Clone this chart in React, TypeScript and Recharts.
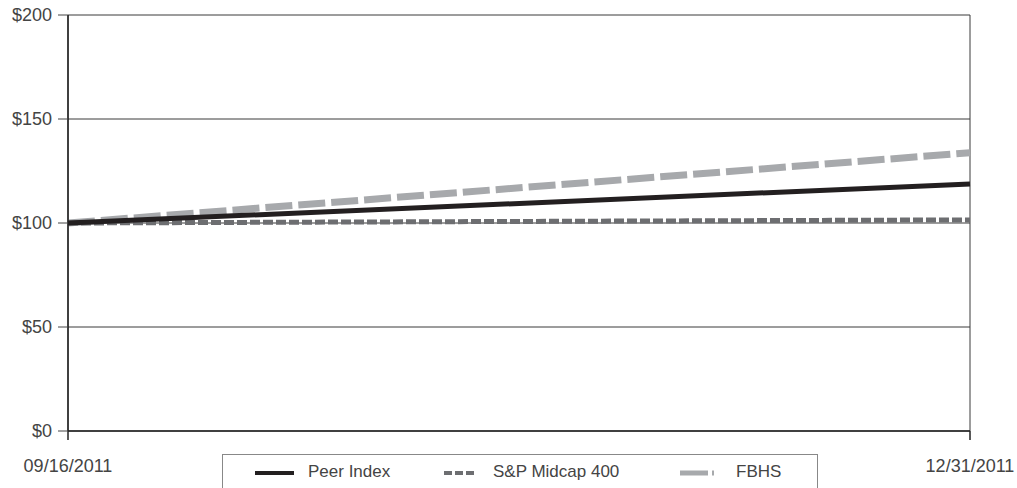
import React from "react";
import {
  CartesianGrid,
  Line,
  LineChart,
  XAxis,
  YAxis,
} from "recharts";

// Cumulative total return, $100 invested on 09/16/2011.
const dates = ["09/16/2011", "12/31/2011"];
const peerIndex = [100, 118.8];
const spMidcap400 = [100, 101.5];
const fbhs = [100, 133.8];
const yTicks = [0, 50, 100, 150, 200];

const data = dates.map((date, i) => ({
  date,
  peer: peerIndex[i],
  sp: spMidcap400[i],
  fbhs: fbhs[i],
}));

const FONT = "'Liberation Sans', Arial, Helvetica, sans-serif";
const TEXT = "#444";

function XTick({ x, y, payload }: any) {
  return (
    <text x={x} y={y + 30} textAnchor="middle" fontSize={18} fill={TEXT} fontFamily={FONT}>
      {payload.value}
    </text>
  );
}

function YTick({ x, y, payload }: any) {
  return (
    <text x={x} y={y} dy="0.36em" textAnchor="end" fontSize={18} fill={TEXT} fontFamily={FONT}>
      {`$${payload.value}`}
    </text>
  );
}

function LegendItem({
  left,
  textLeft,
  label,
  sample,
}: {
  left: number;
  textLeft: number;
  label: string;
  sample: React.ReactNode;
}) {
  return (
    <>
      <svg style={{ position: "absolute", left, top: 12 }} width={44} height={12}>
        {sample}
      </svg>
      <span
        style={{
          position: "absolute",
          left: textLeft,
          top: 7,
          fontSize: 17,
          lineHeight: "20px",
          color: TEXT,
          whiteSpace: "nowrap",
        }}
      >
        {label}
      </span>
    </>
  );
}

export default function App() {
  return (
    <div
      style={{
        position: "absolute",
        left: 0,
        top: 0,
        width: 1017,
        height: 488,
        background: "#fff",
        fontFamily: FONT,
        overflow: "hidden",
      }}
    >
      <LineChart
        width={1017}
        height={488}
        data={data}
        margin={{ top: 15, right: 47, bottom: 0, left: 0 }}
      >
        <CartesianGrid stroke="#3a3a3a" strokeWidth={1} />
        <XAxis
          dataKey="date"
          height={57}
          interval={0}
          axisLine={{ stroke: "#222", strokeWidth: 1.5 }}
          tickLine={{ stroke: "#222", strokeWidth: 1.5 }}
          tickSize={9}
          tick={<XTick />}
        />
        <YAxis
          width={68}
          domain={[0, 200]}
          ticks={yTicks}
          interval={0}
          axisLine={{ stroke: "#222", strokeWidth: 1.5 }}
          tickLine={{ stroke: "#444", strokeWidth: 1 }}
          tickSize={10}
          tickMargin={6}
          tick={<YTick />}
        />
        <Line
          dataKey="fbhs"
          stroke="#a7a9ac"
          strokeWidth={7}
          strokeDasharray="27 6"
          dot={false}
          isAnimationActive={false}
        />
        <Line
          dataKey="sp"
          stroke="#6d6e71"
          strokeWidth={5}
          strokeDasharray="10 3"
          dot={false}
          isAnimationActive={false}
        />
        <Line
          dataKey="peer"
          stroke="#231f20"
          strokeWidth={5}
          dot={false}
          isAnimationActive={false}
        />
      </LineChart>
      <div
        style={{
          position: "absolute",
          left: 222,
          top: 454,
          width: 596,
          height: 50,
          border: "1px solid #888",
          boxSizing: "border-box",
        }}
      >
        <LegendItem
          left={32}
          textLeft={85}
          label="Peer Index"
          sample={<line x1={0} x2={39} y1={6} y2={6} stroke="#231f20" strokeWidth={4} />}
        />
        <LegendItem
          left={221}
          textLeft={270}
          label="S&P Midcap 400"
          sample={<line x1={0} x2={30} y1={6} y2={6} stroke="#6d6e71" strokeWidth={4} strokeDasharray="8 3" />}
        />
        <LegendItem
          left={457}
          textLeft={513}
          label="FBHS"
          sample={<line x1={0} x2={34} y1={6} y2={6} stroke="#a7a9ac" strokeWidth={5} strokeDasharray="28 4" />}
        />
      </div>
    </div>
  );
}
